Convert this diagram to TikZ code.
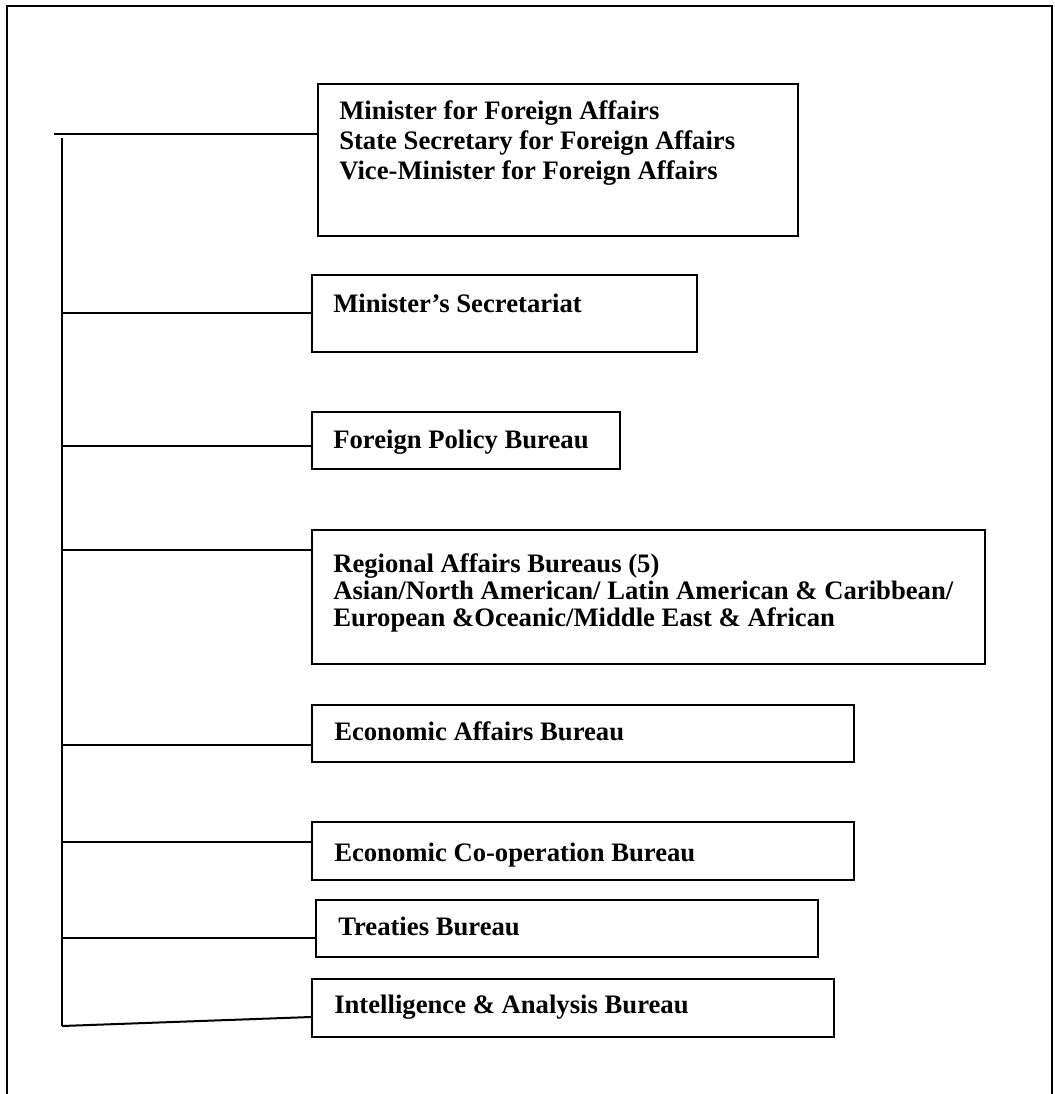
\documentclass[tikz,border=0pt]{standalone}
\usepackage{fontspec}
\setmainfont{Liberation Serif}
\usetikzlibrary{fit,calc}

\begin{document}
\begin{tikzpicture}[x=0.75pt,y=-0.75pt,
    box/.style={draw,line width=1.5pt,inner sep=0pt},
    txt/.style={anchor=base west,align=left,inner sep=0pt,
                font=\fontsize{20}{22.5}\selectfont\bfseries},
    conn/.style={line width=1.5pt}]
  \useasboundingbox (0,0) rectangle (1054,1094);

  % outer frame, open at the bottom
  \draw[line width=2.2pt] (7,1094) -- (7,6) -- (1052,6) -- (1052,1094);

  % boxes
  \node[box,fit={(318,84) (798,236)}] (min) {};
  \node[box,fit={(312,275) (697,352)}] (sec) {};
  \node[box,fit={(312,412) (620,469)}] (pol) {};
  \node[box,fit={(312,530) (985,664)}] (reg) {};
  \node[box,fit={(312,705) (854,762)}] (eco) {};
  \node[box,fit={(312,822) (854,880)}] (coop) {};
  \node[box,fit={(316,900) (818,957)}] (tre) {};
  \node[box,fit={(312,979) (834,1037)}] (intel) {};

  % texts (base = last line)
  \node[txt] (min-t) at (339,180) {Minister for Foreign Affairs\\
    State Secretary for Foreign Affairs\\
    Vice-Minister for Foreign Affairs};
  \node[txt] (sec-t) at (333,313) {Minister’s Secretariat};
  \node[txt] (pol-t) at (333,448) {Foreign Policy Bureau};
  \node[txt,font=\fontsize{20}{20}\selectfont\bfseries] (reg-t) at (333,626)
    {Regional Affairs Bureaus (5)\\
     Asian/North American/ Latin American \& Caribbean/\\
     European \&Oceanic/Middle East \& African};
  \node[txt] (eco-t) at (334,740) {Economic Affairs Bureau};
  \node[txt] (coop-t) at (334,861) {Economic Co-operation Bureau};
  \node[txt] (tre-t) at (338,935) {Treaties Bureau};
  \node[txt] (intel-t) at (334,1013) {Intelligence \& Analysis Bureau};

  % trunk and branches
  \coordinate (topl) at (54,134);
  \coordinate (trunk) at (62,138);
  \coordinate (trunkend) at (62,1026);
  \draw[conn] (topl) -- (topl -| min.west);
  \draw[conn] (trunk) -- (trunkend);
  \foreach \n/\y in {sec/313,pol/446,reg/550,eco/745,coop/842,tre/938}
    \draw[conn] (trunk |- 0,\y) -- (\n.west |- 0,\y);
  \draw[conn] (trunkend) -- ($(intel.north west)+(0,39)$);
\end{tikzpicture}
\end{document}
